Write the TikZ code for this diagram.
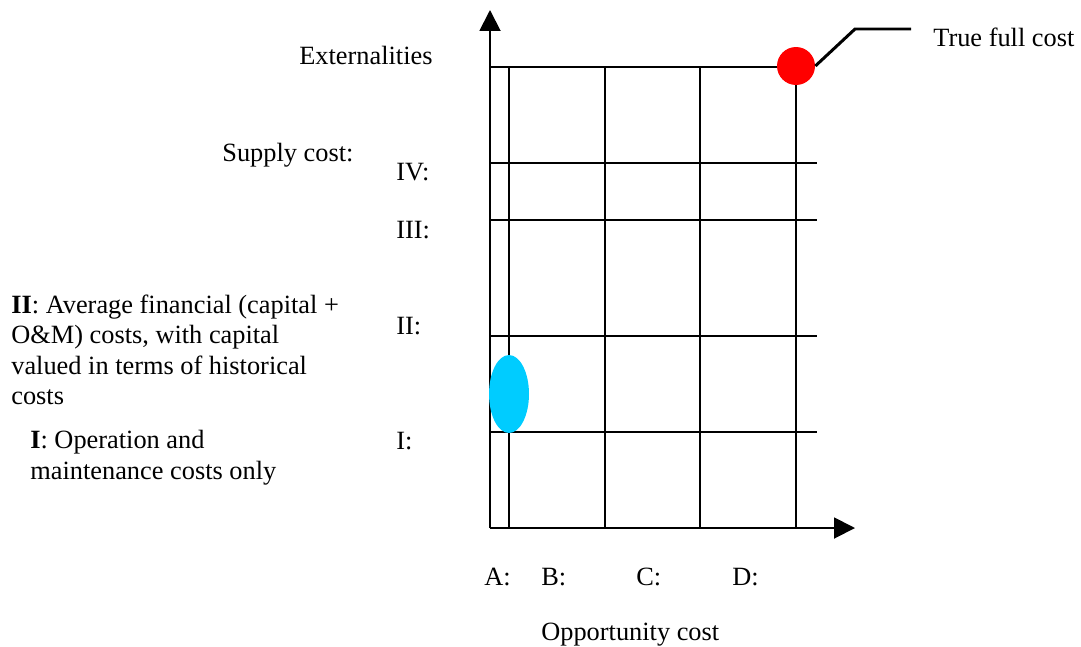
\documentclass[tikz,border=0pt]{standalone}
\usepackage{fontspec}
\setmainfont{Liberation Serif}
\usetikzlibrary{arrows.meta,shapes.geometric}
\definecolor{costblue}{RGB}{0,204,255}

\begin{document}
\begin{tikzpicture}[x=0.02cm,y=-0.02cm,
every node/.style={inner sep=0pt,anchor=base west,font=\fontsize{15}{17.3}\selectfont},
gridline/.style={line width=1.1pt},
axis/.style={line width=1.1pt,-{Triangle[length=0.42cm,width=0.42cm]}}]

\useasboundingbox (0,0) rectangle (1081,646);

% axes
\coordinate (o) at (490,528);
\coordinate (ytop) at (490,10);
\coordinate (xend) at (855,528);
\draw[axis] (o)--(ytop);
\draw[axis] (o)--(xend);

% grid
\draw[gridline] (490,67)--(796,67);
\foreach \y in {163,220,336,432}
  \draw[gridline] (490,\y)--(817,\y);
\foreach \x in {509,605,700,796}
  \draw[gridline] (\x,67)--(\x,528);

% markers
\node[circle,fill=red,minimum size=0.76cm,anchor=center] (full) at (796,66) {};
\coordinate (bend) at (855,29);
\coordinate (tail) at (911,29);
\draw[line width=1.7pt] (full.east)--(bend)--(tail);
\node[ellipse,fill=costblue,minimum width=0.8cm,minimum height=1.56cm,anchor=center] (hist) at (509,394) {};

% labels
\node (ext) at (299,64) {Externalities};
\node (tfc) at (933,46) {True full cost};
\node (sup) at (222,161) {Supply cost:};
\node (iv) at (396,180) {IV:};
\node (iii) at (396,238) {III:};
\node (ii) at (396,334) {II:};
\node (i) at (396,449) {I:};
\node (iia) at (11,313) {\textbf{II}: Average financial (capital +};
\node (iib) at (11,343.5) {O\&M) costs, with capital};
\node (iic) at (11,374) {valued in terms of historical};
\node (iid) at (11,404.5) {costs};
\node (ia) at (30,448) {\textbf{I}: Operation and};
\node (ib) at (30,479) {maintenance costs only};
\node (a) at (484,585) {A:};
\node (b) at (541,585) {B:};
\node (c) at (636,585) {C:};
\node (d) at (732,585) {D:};
\node (opp) at (541,640) {Opportunity cost};

\end{tikzpicture}
\end{document}
